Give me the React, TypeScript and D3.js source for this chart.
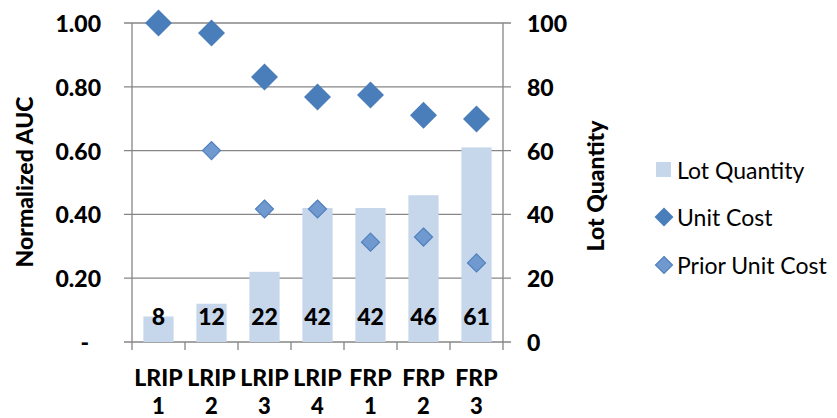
import React from "react";
import * as d3 from "d3";

const lots = ["LRIP 1", "LRIP 2", "LRIP 3", "LRIP 4", "FRP 1", "FRP 2", "FRP 3"];
const lotQuantity = [8, 12, 22, 42, 42, 46, 61];
const unitCost = [1.0, 0.969, 0.831, 0.768, 0.774, 0.711, 0.699];
const priorUnitCost: (number | null)[] = [null, 0.6, 0.417, 0.417, 0.313, 0.329, 0.248];
const leftTicks = [0, 0.2, 0.4, 0.6, 0.8, 1.0];
const rightTicks = [0, 20, 40, 60, 80, 100];

const W = 837;
const H = 418;
const plot = { left: 132, right: 503, top: 23, bottom: 342 };
const FONT = "Lato, 'Open Sans', sans-serif";
const BOLD = 900;
const BAR = "#c6d6eb";
const UNIT = "#4a7ebb";
const PRIOR_FILL = "#7099cf";
const PRIOR_STROKE = "#4f81bd";
const GRID = "#868686";

function diamond(cx: number, cy: number, r: number) {
  return `M${cx},${cy - r}L${cx + r},${cy}L${cx},${cy + r}L${cx - r},${cy}Z`;
}

export default function App() {
  const x = d3.scaleBand<string>().domain(lots).range([plot.left, plot.right]).paddingInner(0).paddingOuter(0);
  const yL = d3.scaleLinear().domain([0, 1]).range([plot.bottom, plot.top]);
  const yR = d3.scaleLinear().domain([0, 100]).range([plot.bottom, plot.top]);
  const bw = x.bandwidth() * 0.57;
  const cx = (d: string) => (x(d) as number) + x.bandwidth() / 2;

  return (
    <svg width={W} height={H} style={{ position: "absolute", left: 0, top: 0, background: "#fff" }} fontFamily={FONT}>
      {/* gridlines */}
      {leftTicks.map((t) => (
        <line key={"g" + t} x1={plot.left - 8} x2={plot.right + 8} y1={yL(t)} y2={yL(t)} stroke={GRID} strokeWidth={1.3} />
      ))}
      {/* bars */}
      {lots.map((l, i) => (
        <rect key={"b" + l} x={cx(l) - bw / 2} y={yR(lotQuantity[i])} width={bw} height={plot.bottom - yR(lotQuantity[i])} fill={BAR} />
      ))}
      {/* axes */}
      <line x1={plot.left} x2={plot.left} y1={plot.top} y2={plot.bottom} stroke={GRID} strokeWidth={1.3} />
      <line x1={plot.right} x2={plot.right} y1={plot.top} y2={plot.bottom} stroke={GRID} strokeWidth={1.3} />
      {d3.range(lots.length + 1).map((i) => {
        const xx = plot.left + i * x.bandwidth();
        return <line key={"xt" + i} x1={xx} x2={xx} y1={plot.bottom} y2={plot.bottom + 8} stroke={GRID} strokeWidth={1.3} />;
      })}
      {/* bar value labels */}
      {lots.map((l, i) => (
        <text key={"v" + l} x={cx(l)} y={316} textAnchor="middle" dominantBaseline="central" fontSize={23} fontWeight={BOLD} fill="#000">
          {lotQuantity[i]}
        </text>
      ))}
      {/* markers */}
      {lots.map((l, i) =>
        priorUnitCost[i] == null ? null : (
          <path key={"p" + l} d={diamond(cx(l), yL(priorUnitCost[i] as number), 9)} fill={PRIOR_FILL} stroke={PRIOR_STROKE} strokeWidth={1.2} />
        )
      )}
      {lots.map((l, i) => (
        <path key={"u" + l} d={diamond(cx(l), yL(unitCost[i]), 13.5)} fill={UNIT} />
      ))}
      {/* left tick labels */}
      {leftTicks.map((t) => (
        <text key={"lt" + t} x={t === 0 ? 89 : 101} y={yL(t)} textAnchor="end" dominantBaseline="central" fontSize={23} fontWeight={BOLD}>
          {t === 0 ? "-" : d3.format(".2f")(t)}
        </text>
      ))}
      {/* right tick labels */}
      {rightTicks.map((t) => (
        <text key={"rt" + t} x={527} y={yR(t)} textAnchor="start" dominantBaseline="central" fontSize={23} fontWeight={BOLD}>
          {t}
        </text>
      ))}
      {/* category labels */}
      {lots.map((l) => {
        const [a, b] = l.split(" ");
        return (
          <g key={"c" + l}>
            <text x={cx(l)} y={377} textAnchor="middle" dominantBaseline="central" fontSize={23} fontWeight={BOLD}>{a}</text>
            <text x={cx(l)} y={405} textAnchor="middle" dominantBaseline="central" fontSize={22} fontWeight={BOLD}>{b}</text>
          </g>
        );
      })}
      {/* axis titles */}
      <text transform="translate(33,182) rotate(-90)" textAnchor="middle" fontSize={23} fontWeight={BOLD}>Normalized AUC</text>
      <text transform="translate(604,186) rotate(-90)" textAnchor="middle" fontSize={23} fontWeight={BOLD}>Lot Quantity</text>
      {/* legend */}
      <rect x={656} y={162} width={15} height={15} fill={BAR} />
      <text x={677} y={170} dominantBaseline="central" fontSize={23}>Lot Quantity</text>
      <path d={diamond(664, 217, 9.5)} fill={UNIT} />
      <text x={677} y={217} dominantBaseline="central" fontSize={23}>Unit Cost</text>
      <path d={diamond(664, 265, 8.5)} fill={PRIOR_FILL} stroke={PRIOR_STROKE} strokeWidth={1.2} />
      <text x={677} y={265} dominantBaseline="central" fontSize={23}>Prior Unit Cost</text>
    </svg>
  );
}
